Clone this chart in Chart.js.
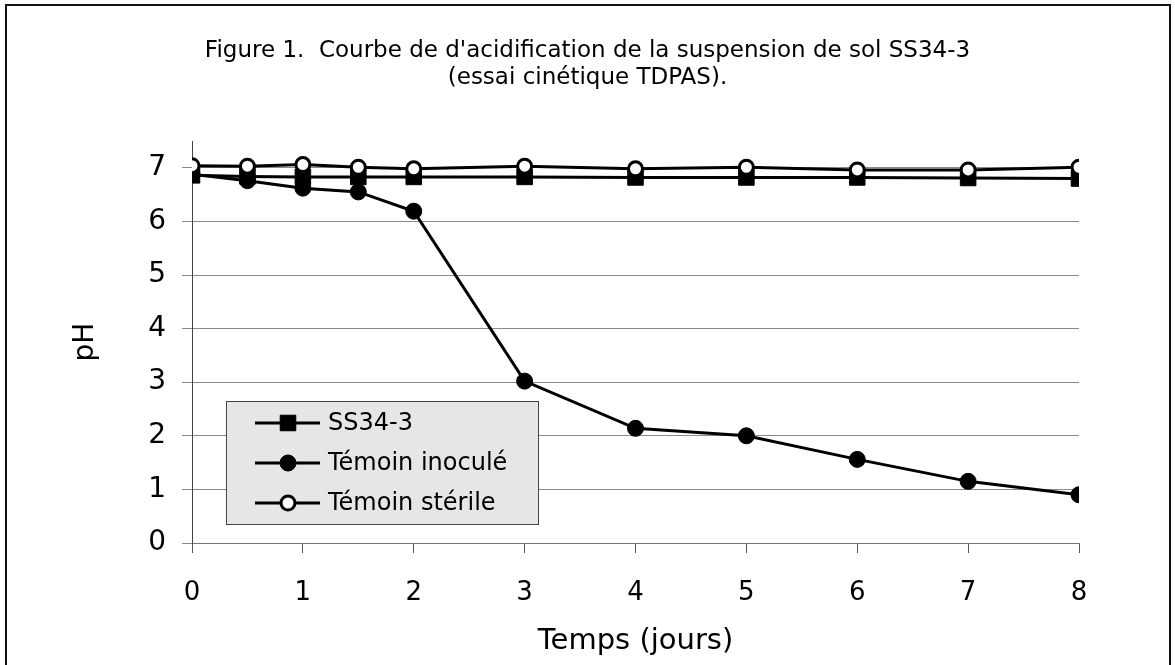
<!DOCTYPE html>
<html>
<head>
<meta charset="utf-8">
<script src="https://cdn.jsdelivr.net/npm/chart.js@4.4.1/dist/chart.umd.min.js"></script>
<style>
  html, body { margin: 0; padding: 0; background: #fff; overflow: hidden; }
  #wrap { position: relative; width: 1175px; height: 665px; }
  #frame { position: absolute; left: 5px; top: 4px; width: 1166px; height: 720px;
           border: 2px solid #111; box-sizing: border-box; }
  #c { position: absolute; left: 0; top: 0; }
</style>
</head>
<body>
<div id="wrap">
  <div id="frame"></div>
  <canvas id="c" width="1175" height="665"></canvas>
</div>
<script>
// Titles and labels
const titleLines = [
  "Figure 1.  Courbe de d'acidification de la suspension de sol SS34-3",
  "(essai cinétique TDPAS)."
];
const xTitle = "Temps (jours)";
const yTitle = "pH";
const seriesNames = ["SS34-3", "Témoin inoculé", "Témoin stérile"];

// Sampling times (days) and measured pH
const days = [0, 0.5, 1, 1.5, 2, 3, 4, 5, 6, 7, 8];
const phSS34 = [6.86, 6.84, 6.83, 6.83, 6.83, 6.83, 6.82, 6.82, 6.82, 6.81, 6.80];
const phInocule = [6.88, 6.76, 6.62, 6.55, 6.19, 3.02, 2.14, 2.00, 1.56, 1.15, 0.90];
const phSterile = [7.04, 7.03, 7.06, 7.01, 6.98, 7.03, 6.98, 7.01, 6.96, 6.96, 7.01];

// Axis ranges
const xMin = 0, xMax = 8, xStep = 1;
const yMin = 0, yMax = 7.5, yStep = 1;

const FONT = "'DejaVu Sans', Verdana, sans-serif";
const toPoints = vals => days.map((d, i) => ({ x: d, y: vals[i] }));

// Boxed legend sitting inside the plot area
const insetLegend = {
  id: 'insetLegend',
  afterDraw(chart) {
    const ctx = chart.ctx;
    const box = { left: 226, top: 401, right: 538, bottom: 524 };
    ctx.save();
    ctx.fillStyle = '#e6e6e6';
    ctx.fillRect(box.left, box.top, box.right - box.left, box.bottom - box.top);
    ctx.strokeStyle = '#444';
    ctx.lineWidth = 1;
    ctx.strokeRect(box.left + 0.5, box.top + 0.5, box.right - box.left, box.bottom - box.top);
    chart.data.datasets.forEach((ds, i) => {
      const y = 423 + i * 40;
      ctx.strokeStyle = ds.borderColor;
      ctx.lineWidth = ds.borderWidth;
      ctx.beginPath();
      ctx.moveTo(255, y);
      ctx.lineTo(320, y);
      ctx.stroke();
      ctx.fillStyle = ds.pointBackgroundColor;
      ctx.strokeStyle = ds.pointBorderColor;
      ctx.lineWidth = ds.pointBorderWidth;
      Chart.helpers.drawPoint(ctx, {
        pointStyle: ds.pointStyle, radius: ds.pointRadius,
        borderWidth: ds.pointBorderWidth, rotation: 0
      }, 288, y);
      ctx.fillStyle = '#000';
      ctx.font = '24px ' + FONT;
      ctx.textAlign = 'left';
      ctx.textBaseline = 'middle';
      ctx.fillText(ds.label, 328, y + 1);
    });
    ctx.restore();
  }
};

new Chart(document.getElementById('c'), {
  type: 'line',
  data: {
    datasets: [
      {
        label: seriesNames[0], data: toPoints(phSS34), order: 3,
        borderColor: '#000', borderWidth: 3, tension: 0,
        pointStyle: 'rect', pointRadius: 11, pointHoverRadius: 11,
        pointBackgroundColor: '#000', pointBorderColor: '#000', pointBorderWidth: 1
      },
      {
        label: seriesNames[1], data: toPoints(phInocule), order: 2,
        borderColor: '#000', borderWidth: 3, tension: 0,
        pointStyle: 'circle', pointRadius: 8, pointHoverRadius: 8,
        pointBackgroundColor: '#000', pointBorderColor: '#000', pointBorderWidth: 1
      },
      {
        label: seriesNames[2], data: toPoints(phSterile), order: 1,
        borderColor: '#000', borderWidth: 3, tension: 0,
        pointStyle: 'circle', pointRadius: 7, pointHoverRadius: 7,
        pointBackgroundColor: '#fff', pointBorderColor: '#000', pointBorderWidth: 3
      }
    ]
  },
  options: {
    responsive: false,
    animation: false,
    devicePixelRatio: 1,
    layout: { padding: 0 },
    plugins: {
      legend: { display: false },
      tooltip: { enabled: false },
      title: {
        display: true,
        text: titleLines,
        color: '#000',
        font: { family: FONT, size: 23, weight: 'normal', lineHeight: '27px' },
        padding: { top: 38, bottom: 49 }
      }
    },
    scales: {
      x: {
        type: 'linear', min: xMin, max: xMax,
        grid: { drawOnChartArea: false, drawTicks: true, tickLength: 10, color: '#555' },
        border: { color: '#777', width: 1 },
        ticks: { stepSize: xStep, color: '#000', padding: 25,
                 font: { family: FONT, size: 26 }, maxRotation: 0 },
        title: { display: true, text: xTitle, color: '#000',
                 font: { family: FONT, size: 29 }, padding: { top: 0, bottom: 6 } },
        afterFit: s => { s.height = 122; }
      },
      y: {
        type: 'linear', min: yMin, max: yMax,
        grid: { color: '#8a8a8a', lineWidth: 1, drawTicks: true, tickLength: 10 },
        border: { color: '#444', width: 1 },
        ticks: { stepSize: yStep, includeBounds: false, color: '#000', padding: 16,
                 font: { family: FONT, size: 28 } },
        title: { display: true, text: yTitle, color: '#000',
                 font: { family: FONT, size: 28 }, padding: { top: 69, bottom: 0 } },
        afterFit: s => { s.width = 192; }
      },
      yRight: {
        type: 'linear', position: 'right', min: yMin, max: yMax,
        grid: { display: false }, border: { display: false },
        ticks: { display: false },
        afterFit: s => { s.width = 96; }
      }
    }
  },
  plugins: [insetLegend]
});
</script>
</body>
</html>
